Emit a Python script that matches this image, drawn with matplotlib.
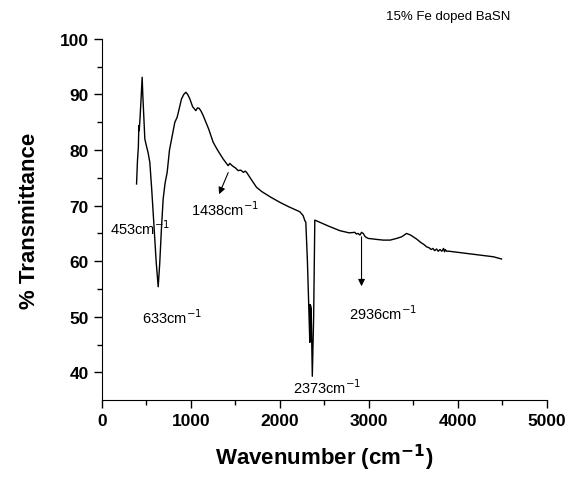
import matplotlib.pyplot as plt
import numpy as np

plt.rcParams['font.family'] = ['Liberation Sans', 'DejaVu Sans']

# 读图估计的光谱数据（分段写，方便对齐）
wn_1 = [390, 400, 410, 416, 420, 430, 440, 453, 460, 470, 483, 500, 520, 539, 560, 588, 610, 633]
tr_1 = [73.9, 78.0, 80.5, 84.4, 83.5, 86.0, 89.0, 93.1, 90.0, 86.5, 82.0, 80.8, 79.5, 77.8, 73.0, 65.8, 60.0, 55.4]

wn_2 = [650, 670, 689, 710, 734, 760, 790, 820, 846, 870, 895, 920, 944, 965, 989, 1020, 1056, 1075, 1094, 1115, 1139]
tr_2 = [59.5, 66.0, 71.2, 74.0, 76.0, 80.0, 82.5, 85.0, 85.9, 87.5, 89.2, 90.0, 90.4, 90.0, 89.2, 87.8, 87.1, 87.6, 87.5, 87.0, 86.2]

wn_3 = [1200, 1251, 1300, 1363, 1400, 1419, 1438, 1457, 1480, 1500, 1532, 1560, 1590, 1610, 1626, 1663, 1700, 1738,
        1800, 1900, 2000, 2100, 2225, 2262, 2281, 2292]
tr_3 = [83.8, 81.4, 80.0, 78.4, 77.6, 77.2, 77.6, 77.3, 77.0, 76.8, 76.3, 76.4, 76.0, 76.2, 76.0, 75.1, 74.2, 73.3,
        72.5, 71.5, 70.6, 69.8, 68.9, 68.2, 67.3, 67.0]

wn_4 = [2310, 2337, 2340, 2343, 2346, 2349, 2352, 2365, 2380, 2393]
tr_4 = [60.0, 45.4, 52.2, 45.6, 52.0, 46.0, 51.5, 39.3, 50.0, 67.4]

wn_5 = [2450, 2550, 2674, 2780, 2843, 2860, 2880, 2900, 2918, 2936, 2960, 2993, 3050, 3100, 3162, 3240, 3312, 3370,
        3424, 3470, 3536, 3590, 3620, 3648, 3680, 3700, 3720, 3740, 3761, 3780, 3800, 3820, 3840, 3850, 3860, 3873,
        3900, 4000, 4100, 4200, 4300, 4400, 4491]
tr_5 = [67.0, 66.3, 65.5, 65.1, 65.2, 64.9, 65.0, 64.7, 65.2, 65.0, 64.4, 64.1, 64.0, 63.9, 63.8, 63.8, 64.1, 64.4,
        65.0, 64.7, 64.0, 63.3, 63.0, 62.6, 62.4, 62.1, 62.3, 61.9, 62.2, 61.8, 62.1, 61.8, 62.3, 61.7, 62.1, 61.8,
        61.8, 61.6, 61.4, 61.2, 61.0, 60.8, 60.4]

wavenumber = wn_1 + wn_2 + wn_3 + wn_4 + wn_5
transmittance = tr_1 + tr_2 + tr_3 + tr_4 + tr_5

# 峰位标注
peak_labels = ['453cm$^{-1}$', '633cm$^{-1}$', '1438cm$^{-1}$', '2373cm$^{-1}$', '2936cm$^{-1}$']
label_x = [430, 790, 1380, 2530, 3160]
label_y = [66.0, 50.0, 69.4, 37.5, 50.8]

fig = plt.figure(figsize=(5.69, 4.81), dpi=100)
ax = fig.add_axes([0.179, 0.166, 0.782, 0.751])
ax.plot(wavenumber, transmittance, color='black', linewidth=1.0)

for lab, tx, ty in zip(peak_labels, label_x, label_y):
    ax.text(tx, ty, lab, fontsize=10.5, ha='center', va='center')

# 箭头
ax.annotate('', xy=(1305, 71.6), xytext=(1432, 76.4),
            arrowprops=dict(arrowstyle='-|>', color='black', lw=0.8, mutation_scale=10))
ax.annotate('', xy=(2918, 55.0), xytext=(2918, 64.9),
            arrowprops=dict(arrowstyle='-|>', color='black', lw=0.8, mutation_scale=10))

ax.text(3890, 104.2, '15% Fe doped BaSN', fontsize=9.5, ha='center', va='center')

ax.set_xlim(0, 5000)
ax.set_ylim(35, 100)
ax.set_xticks([0, 1000, 2000, 3000, 4000, 5000])
ax.set_xticks(np.arange(500, 5000, 1000), minor=True)
ax.set_yticks([40, 50, 60, 70, 80, 90, 100])
ax.set_yticks(np.arange(45, 100, 10), minor=True)
ax.spines['top'].set_visible(False)
ax.spines['right'].set_visible(False)
ax.tick_params(which='major', direction='out', length=6, width=1)
ax.tick_params(which='minor', direction='out', length=3.5, width=1)
for lab in ax.get_xticklabels() + ax.get_yticklabels():
    lab.set_fontweight('bold')
    lab.set_fontsize(12.5)

ax.set_xlabel('Wavenumber (cm$^{\\mathbf{-1}}$)', fontsize=16, fontweight='bold', labelpad=10)
ax.set_ylabel('% Transmittance', fontsize=16, fontweight='bold', labelpad=14)

fig.savefig('out.png', dpi=100)
